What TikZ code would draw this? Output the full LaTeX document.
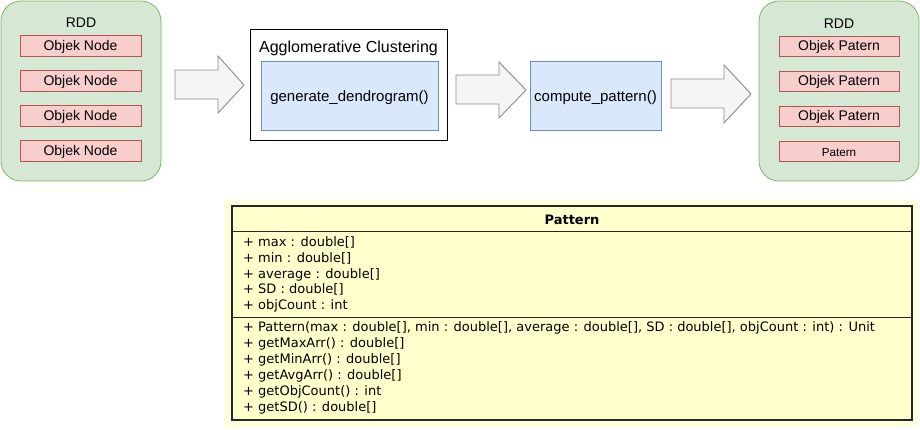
\documentclass[tikz,border=0pt]{standalone}
\usepackage{fontspec}
\setmainfont{Liberation Sans}
\newfontfamily\umlfont{DejaVu Sans}
\definecolor{grnfill}{HTML}{D5E8D4}
\definecolor{grnline}{HTML}{82B366}
\definecolor{pnkfill}{HTML}{F8CECC}
\definecolor{pnkline}{HTML}{B85450}
\definecolor{blufill}{HTML}{DAE8FC}
\definecolor{bluline}{HTML}{6C8EBF}
\definecolor{arrfill}{HTML}{F5F5F5}
\definecolor{arrline}{HTML}{8C8C8C}
\definecolor{umlfill}{HTML}{FFFFCC}
\definecolor{umlback}{HTML}{FFFFDD}
\begin{document}
\begin{tikzpicture}[x=1pt,y=-1pt,
  rdd/.style={draw=grnline,fill=grnfill,rounded corners=20pt,line width=0.8pt},
  obj/.style={draw=pnkline,fill=pnkfill,line width=0.8pt},
  blu/.style={draw=bluline,fill=blufill,line width=0.8pt},
  blockarrow/.style={draw=arrline,fill=arrfill,line width=0.9pt,line join=miter},
  lbl/.style={font=\fontsize{14}{16}\selectfont,inner sep=0pt,yshift=-1.3pt},
  uml/.style={font=\umlfont\fontsize{13}{15}\selectfont,anchor=base west,inner sep=0pt}]
\useasboundingbox (0,0) rectangle (920,429);
\fill[white] (0,0) rectangle (920,429);

% Left RDD
\draw[rdd] (1,1) rectangle (161,181);
\node[lbl] (rddL) at (81,21) {RDD};
\foreach \y [count=\i] in {35,70,105,140}{
  \draw[obj] (20,\y) rectangle (141,\y+21);
  \node[lbl] (objL\i) at (80.5,\y+10.5) {Objek Node};
}

% Arrow 1
\draw[blockarrow] (175,70) -- (218,70) -- (218,56) -- (244,85) -- (218,113) -- (218,99) -- (175,99) -- cycle;

% Agglomerative clustering
\draw[black,line width=1pt,fill=white] (250,29) rectangle (447,140);
\node[lbl,font=\fontsize{16}{18}\selectfont] (aggT) at (348.5,47) {Agglomerative Clustering};
\draw[blu] (261,61) rectangle (438,130);
\node[lbl,font=\fontsize{15}{17}\selectfont] (gen) at (349.5,96) {generate\_dendrogram()};

% Arrow 2
\draw[blockarrow] (456,75) -- (499,75) -- (499,62) -- (526,90) -- (499,118) -- (499,104) -- (456,104) -- cycle;

% compute pattern
\draw[blu] (530,61) rectangle (661,130);
\node[lbl,font=\fontsize{15}{17}\selectfont] (comp) at (595.5,96) {compute\_pattern()};

% Arrow 3
\draw[blockarrow] (671,79) -- (724,79) -- (724,65) -- (751,94) -- (724,123) -- (724,108) -- (671,108) -- cycle;

% Right RDD
\draw[rdd] (759,1) rectangle (919,181);
\node[lbl] (rddR) at (839,22) {RDD};
\foreach \y [count=\i] in {36,71,106}{
  \draw[obj] (779,\y) rectangle (899,\y+20);
  \node[lbl] (objR\i) at (839,\y+10) {Objek Patern};
}
\draw[obj] (779,141) rectangle (899,161);
\node[lbl,font=\fontsize{11.7}{13}\selectfont] (patR) at (839,151) {Patern};

% UML class
\fill[umlback] (224,200) rectangle (918,427);
\draw[black!85,fill=umlfill,line width=2pt] (232,206) rectangle (912,420);
\draw[black!85,line width=0.8pt] (232,231.5) -- (912,231.5);
\draw[black!85,line width=0.8pt] (232,317) -- (912,317);
\node[uml,anchor=base,font=\umlfont\bfseries\fontsize{13}{15}\selectfont] (ptitle) at (572,224) {Pattern};
\foreach \t [count=\i] in {{+ max : double[]},{+ min : double[]},{+ average : double[]},{+ SD : double[]},{+ objCount : int}}{
  \node[uml] (att\i) at (243,246.5+15.8*\i-15.8) {\t};
}
\foreach \t [count=\i] in {{+ Pattern(max : double[], min : double[], average : double[], SD : double[], objCount : int) : Unit},{+ getMaxArr() : double[]},{+ getMinArr() : double[]},{+ getAvgArr() : double[]},{+ getObjCount() : int},{+ getSD() : double[]}}{
  \node[uml] (meth\i) at (243,331.5+16*\i-16) {\t};
}
\end{tikzpicture}
\end{document}
